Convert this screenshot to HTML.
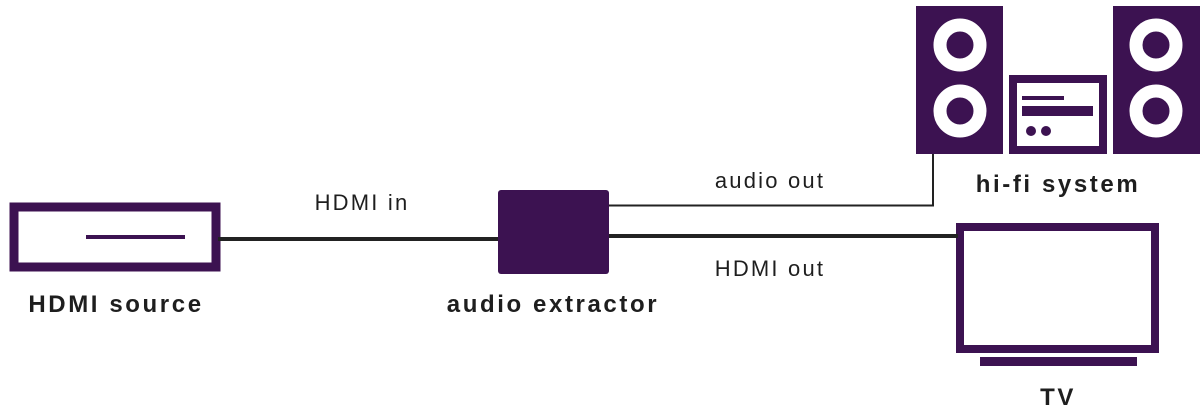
<!DOCTYPE html>
<html><head><style>
body{margin:0;background:#fff;width:1200px;height:408px;overflow:hidden;}
svg text{font-family:"Liberation Sans",sans-serif;fill:#1e1e1e;}
</style></head><body>
<svg width="1200" height="408" viewBox="0 0 1200 408">
<g fill="#3c1251">
<rect x="14" y="207" width="202" height="60" fill="none" stroke="#3c1251" stroke-width="9"/>
<rect x="86" y="235" width="99" height="4"/>
<rect x="498" y="190" width="111" height="84" rx="3"/>
<rect x="916" y="6" width="87" height="148"/>
<rect x="1113" y="6" width="87" height="148"/>
<rect x="1009" y="75" width="98" height="79"/>
<rect x="1017" y="83" width="82" height="63" fill="#fff"/>
<rect x="1022" y="96" width="42" height="4"/>
<rect x="1022" y="106" width="71" height="10"/>
<circle cx="1031" cy="131" r="5"/><circle cx="1046" cy="131" r="5"/>
</g>
<g fill="none" stroke="#fff" stroke-width="13">
<circle cx="960" cy="45" r="20"/><circle cx="960" cy="111" r="20"/>
<circle cx="1156" cy="45" r="20"/><circle cx="1156" cy="111" r="20"/>
</g>
<rect x="960" y="227" width="195" height="122" fill="none" stroke="#3c1251" stroke-width="8"/>
<rect x="980" y="357" width="157" height="9" fill="#3c1251"/>
<g stroke="#222" fill="none">
<line x1="218" y1="239" x2="498" y2="239" stroke-width="4"/>
<polyline points="609,205.5 933,205.5 933,154" stroke-width="2"/>
<line x1="609" y1="236" x2="958" y2="236" stroke-width="4"/>
</g>
<g font-size="22" font-weight="300" text-anchor="middle" style="letter-spacing:2.2px">
<text x="362" y="210">HDMI in</text>
<text x="770" y="188">audio out</text>
<text x="770" y="276">HDMI out</text>
</g>
<g font-size="24" font-weight="bold" text-anchor="middle" style="letter-spacing:2.6px">
<text x="116" y="312">HDMI source</text>
<text x="553" y="312">audio extractor</text>
<text x="1058" y="192">hi-fi system</text>
<text x="1058" y="405">TV</text>
</g>
</svg>
</body></html>
